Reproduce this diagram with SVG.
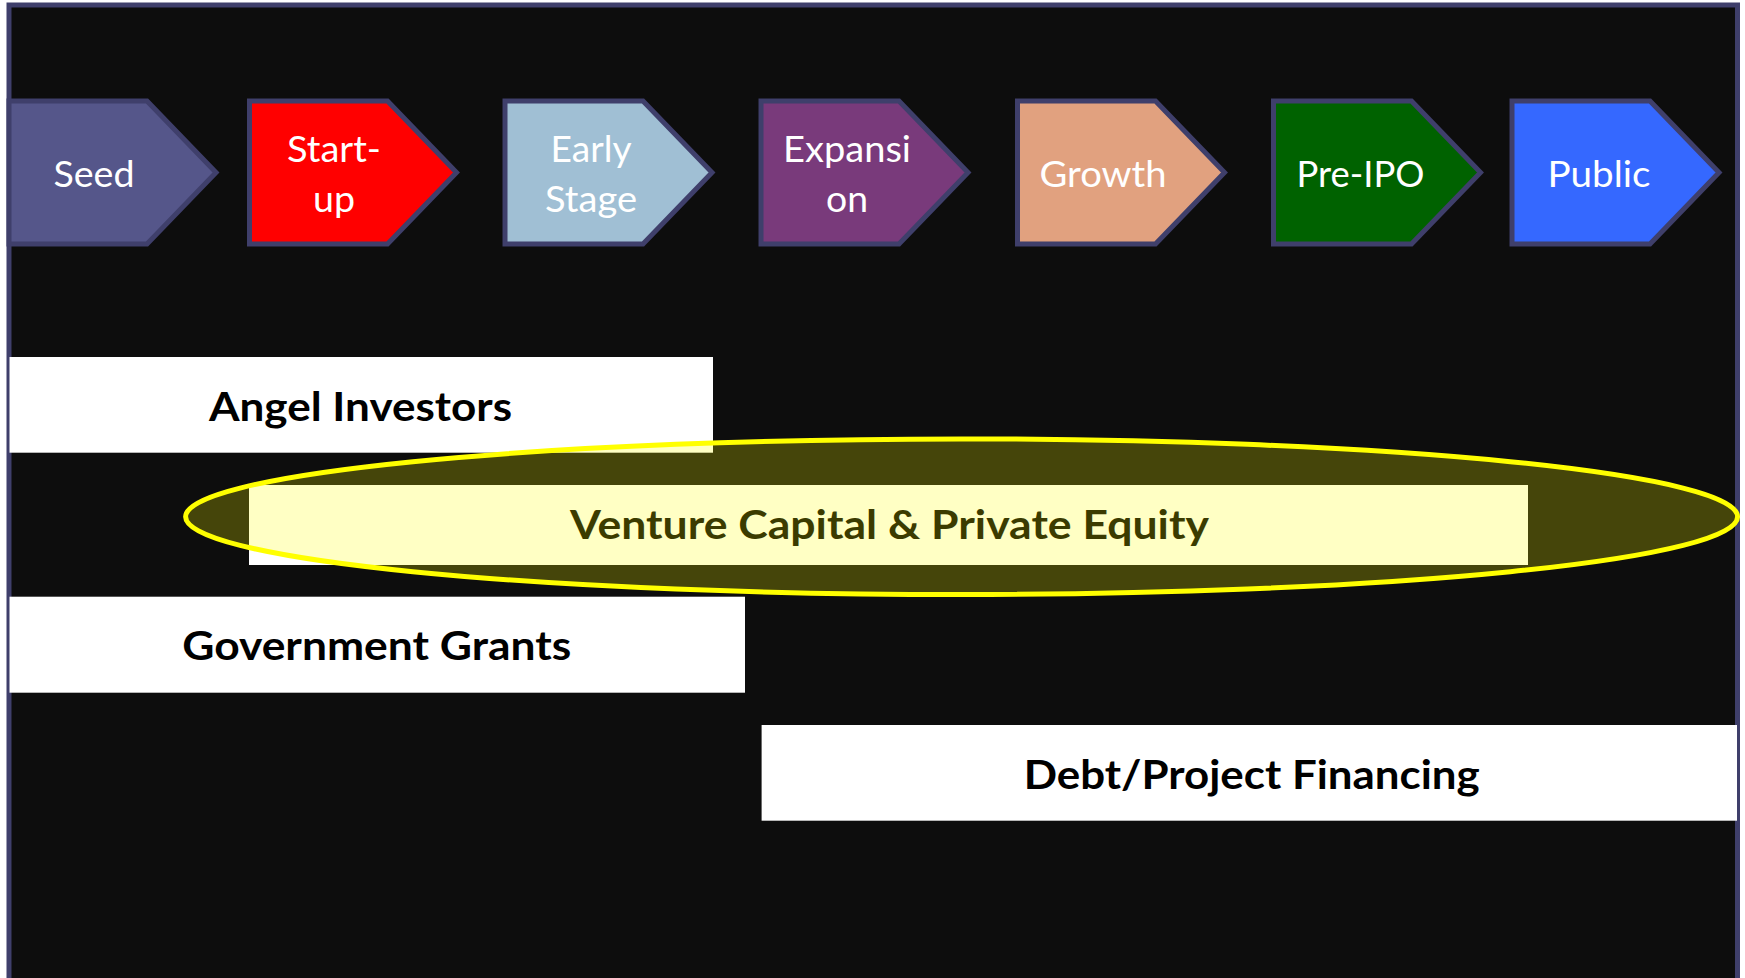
<svg xmlns="http://www.w3.org/2000/svg" width="1745" height="978" viewBox="0 0 1745 978">
<style>
.stage{stroke:#3f3f6b;stroke-width:5;stroke-linejoin:miter}
.lbl{font-family:Lato,"Liberation Sans",sans-serif;font-size:36px;fill:#ffffff;text-anchor:middle}
.box{fill:#ffffff}
.blbl{font-family:Lato,"Liberation Sans",sans-serif;font-size:40px;font-weight:bold;fill:#000000;text-anchor:middle}
</style>
<defs>
<path id="chev" d="M0,101 H138 L207,172.5 L138,244 H0 Z"/>
</defs>
<rect id="frame" x="9" y="5" width="1728.5" height="1000" fill="#0d0d0d" stroke="#3f3f6b" stroke-width="5"/>
<g id="seed"><use href="#chev" x="9" class="stage" fill="#55568a"/><text class="lbl" x="94" y="187" textLength="81" lengthAdjust="spacingAndGlyphs">Seed</text></g>
<g id="startup"><use href="#chev" x="249.5" class="stage" fill="#ff0000"/><text class="lbl" x="334" y="162" textLength="94" lengthAdjust="spacingAndGlyphs">Start-</text><text class="lbl" x="334" y="212" textLength="42" lengthAdjust="spacingAndGlyphs">up</text></g>
<g id="early"><use href="#chev" x="505" class="stage" fill="#a0bfd4"/><text class="lbl" x="591" y="162" textLength="81" lengthAdjust="spacingAndGlyphs">Early</text><text class="lbl" x="591" y="212" textLength="92" lengthAdjust="spacingAndGlyphs">Stage</text></g>
<g id="expansion"><use href="#chev" x="761" class="stage" fill="#793a7b"/><text class="lbl" x="847" y="162" textLength="128" lengthAdjust="spacingAndGlyphs">Expansi</text><text class="lbl" x="847" y="212" textLength="42" lengthAdjust="spacingAndGlyphs">on</text></g>
<g id="growth"><use href="#chev" x="1017.5" class="stage" fill="#e1a17f"/><text class="lbl" x="1103" y="187" textLength="127" lengthAdjust="spacingAndGlyphs">Growth</text></g>
<g id="preipo"><use href="#chev" x="1273.5" class="stage" fill="#006200"/><text class="lbl" x="1360.5" y="187" textLength="128" lengthAdjust="spacingAndGlyphs">Pre-IPO</text></g>
<g id="public"><use href="#chev" x="1512" class="stage" fill="#3568ff"/><text class="lbl" x="1599" y="187" textLength="103" lengthAdjust="spacingAndGlyphs">Public</text></g>
<g id="angel"><rect class="box" x="9.5" y="357" width="703.5" height="95.7"/><text class="blbl" x="360.5" y="421" textLength="303" lengthAdjust="spacingAndGlyphs">Angel Investors</text></g>
<g id="gov"><rect class="box" x="9.5" y="596.7" width="735.5" height="96"/><text class="blbl" x="376.7" y="660" textLength="389" lengthAdjust="spacingAndGlyphs">Government Grants</text></g>
<g id="debt"><rect class="box" x="761.6" y="725" width="975.4" height="95.7"/><text class="blbl" x="1251.7" y="788.5" textLength="456" lengthAdjust="spacingAndGlyphs">Debt/Project Financing</text></g>
<g id="vc"><rect class="box" x="249" y="485" width="1279" height="80"/><text class="blbl" x="889.5" y="539" textLength="639" lengthAdjust="spacingAndGlyphs">Venture Capital &amp; Private Equity</text><ellipse cx="961.6" cy="516.7" rx="776" ry="77.8" fill="#ffff00" fill-opacity="0.23" stroke="#ffff00" stroke-width="5"/></g>
<g id="connectors"/>
</svg>
